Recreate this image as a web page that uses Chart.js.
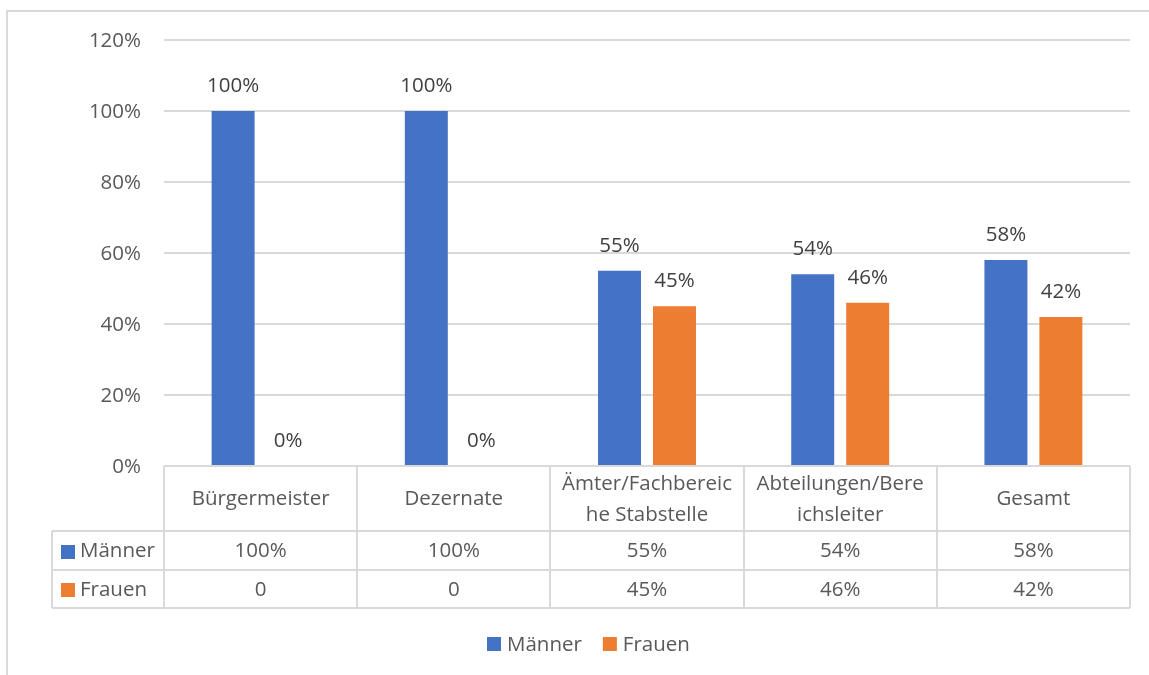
<!DOCTYPE html>
<html>
<head>
<meta charset="utf-8">
<script src="https://cdn.jsdelivr.net/npm/chart.js@4/dist/chart.umd.min.js"></script>
<style>
  html, body { margin: 0; padding: 0; background: #ffffff; }
  #wrap { width: 1149px; height: 675px; }
</style>
</head>
<body>
<div id="wrap"><canvas id="c" width="1149" height="675"></canvas></div>
<script>
// Categories (wrapped the way the table header shows them)
const categories = [
  ["Bürgermeister"],
  ["Dezernate"],
  ["Ämter/Fachbereic", "he Stabstelle"],
  ["Abteilungen/Bere", "ichsleiter"],
  ["Gesamt"]
];
const seriesNames = ["Männer", "Frauen"];
const maenner = [100, 100, 55, 54, 58];
const frauen = [0, 0, 45, 46, 42];
const yTicks = [0, 20, 40, 60, 80, 100, 120];

const FONT = '"Open Sans", "Noto Sans", sans-serif';
const FONT_SIZE = 20.5;
const GRID = '#d9d9d9';
const AXIS_TEXT = '#595959';
const LABEL_TEXT = '#404040';
const COLORS = ['#4472C4', '#ED7D31'];

function pct(v) { return v + '%'; }
function tableValue(v) { return v === 0 ? '0' : v + '%'; }

const tablePlugin = {
  id: 'dataTable',
  beforeDraw(chart) {
    const { ctx } = chart;
    // outer frame of the chart box
    ctx.save();
    ctx.strokeStyle = GRID;
    ctx.lineWidth = 2;
    ctx.strokeRect(7, 11, 1200, 700);
    ctx.restore();
  },
  afterDatasetsDraw(chart) {
    const { ctx } = chart;
    ctx.save();
    ctx.font = FONT_SIZE + 'px ' + FONT;
    ctx.fillStyle = LABEL_TEXT;
    ctx.textAlign = 'center';
    ctx.textBaseline = 'middle';
    chart.data.datasets.forEach((ds, di) => {
      chart.getDatasetMeta(di).data.forEach((bar, i) => {
        ctx.fillText(pct(ds.data[i]), bar.x, bar.y - 25);
      });
    });
    ctx.restore();
  },
  afterDraw(chart) {
    const { ctx, chartArea: area } = chart;
    const xs = chart.scales.x;
    const n = chart.data.labels.length;
    const colW = (area.right - area.left) / n;
    const top = area.bottom;
    const headB = top + 65;
    const rowB = [headB + 39, headB + 77];
    const leftX = 52;

    ctx.save();
    ctx.strokeStyle = GRID;
    ctx.lineWidth = 2;
    const line = (x1, y1, x2, y2) => { ctx.beginPath(); ctx.moveTo(x1, y1); ctx.lineTo(x2, y2); ctx.stroke(); };
    line(leftX, headB, area.right, headB);
    rowB.forEach(y => line(leftX, y, area.right, y));
    for (let k = 0; k <= n; k++) {
      const x = Math.round(area.left + k * colW);
      line(x, top, x, rowB[1]);
    }
    line(leftX, headB, leftX, rowB[1]);

    ctx.font = FONT_SIZE + 'px ' + FONT;
    ctx.fillStyle = AXIS_TEXT;
    ctx.textBaseline = 'middle';
    ctx.textAlign = 'center';

    // header row with category names
    chart.data.labels.forEach((lbl, i) => {
      const cx = xs.getPixelForValue(i);
      const lines = Array.isArray(lbl) ? lbl : [lbl];
      const lh = 31;
      const cy = top + 65 / 2 + 1 - (lines.length - 1) * lh / 2;
      lines.forEach((t, j) => ctx.fillText(t, cx, cy + j * lh));
    });

    // value rows with legend keys
    const rowTops = [headB, rowB[0]];
    chart.data.datasets.forEach((ds, di) => {
      const cy = (rowTops[di] + rowB[di]) / 2;
      ctx.fillStyle = ds.backgroundColor;
      ctx.fillRect(61, Math.round(cy - 6), 14, 14);
      ctx.fillStyle = AXIS_TEXT;
      ctx.textAlign = 'left';
      ctx.fillText(ds.label, 80, cy + 1);
      ctx.textAlign = 'center';
      ds.data.forEach((v, i) => ctx.fillText(tableValue(v), xs.getPixelForValue(i), cy + 1));
    });

    // legend below the table
    const legendY = 644;
    const box = 14, gapBoxText = 6, gapItems = 21;
    const widths = chart.data.datasets.map(ds => box + gapBoxText + ctx.measureText(ds.label).width);
    const total = widths.reduce((a, b) => a + b, 0) + gapItems * (widths.length - 1);
    let x = Math.round(588 - total / 2);
    ctx.textAlign = 'left';
    chart.data.datasets.forEach((ds, di) => {
      ctx.fillStyle = ds.backgroundColor;
      ctx.fillRect(x, legendY - box / 2, box, box);
      ctx.fillStyle = AXIS_TEXT;
      ctx.fillText(ds.label, x + box + gapBoxText, legendY + 1);
      x += widths[di] + gapItems;
    });
    ctx.restore();
  }
};

new Chart(document.getElementById('c'), {
  type: 'bar',
  data: {
    labels: categories,
    datasets: [
      { label: seriesNames[0], data: maenner, backgroundColor: COLORS[0] },
      { label: seriesNames[1], data: frauen, backgroundColor: COLORS[1] }
    ]
  },
  options: {
    responsive: false,
    animation: false,
    devicePixelRatio: 1,
    layout: { padding: { top: 40, right: 19, bottom: 209, left: 0 } },
    datasets: { bar: { categoryPercentage: 0.569, barPercentage: 0.782 } },
    plugins: {
      legend: { display: false },
      tooltip: { enabled: false }
    },
    scales: {
      x: { display: false },
      y: {
        min: yTicks[0],
        max: yTicks[yTicks.length - 1],
        afterBuildTicks(scale) { scale.ticks = yTicks.map(v => ({ value: v })); },
        afterFit(scale) { scale.width = 164; },
        border: { display: false },
        grid: { color: GRID, lineWidth: 2, drawTicks: false },
        ticks: {
          color: AXIS_TEXT,
          font: { family: FONT, size: FONT_SIZE },
          padding: 23,
          labelOffset: 1,
          callback: v => pct(v)
        }
      }
    }
  },
  plugins: [tablePlugin]
});
</script>
</body>
</html>
